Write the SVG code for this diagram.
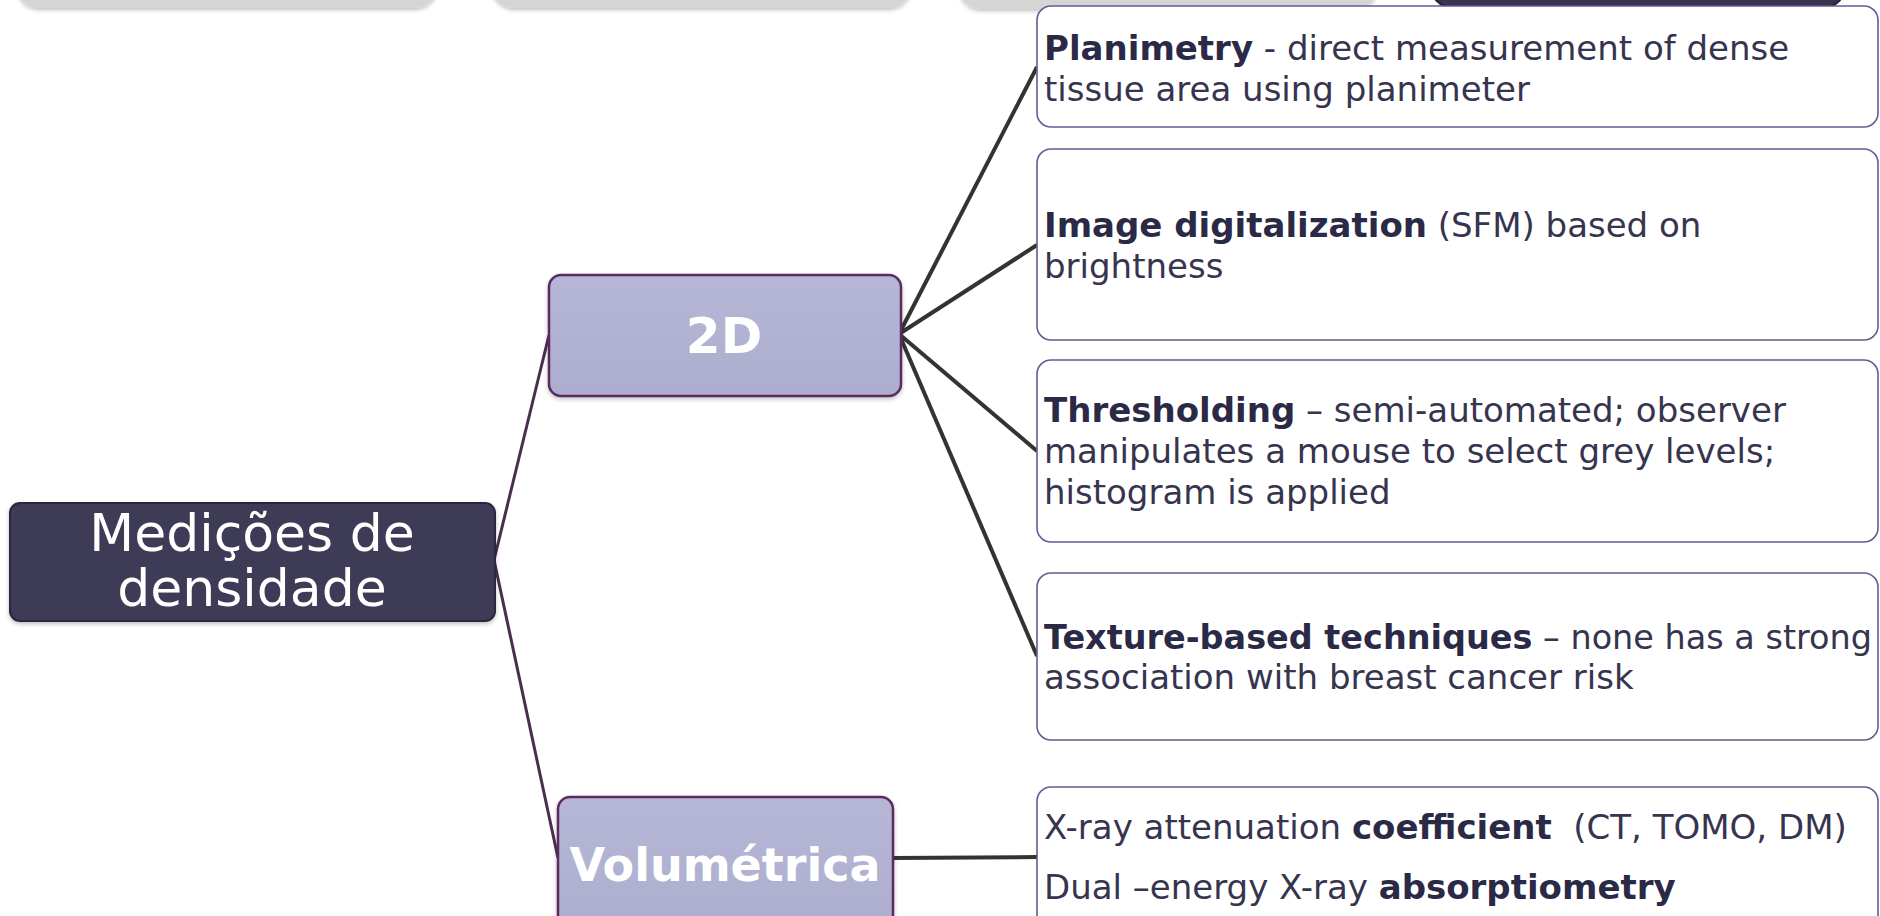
<svg xmlns="http://www.w3.org/2000/svg" width="1880" height="916" viewBox="0 0 1880 916">
  <defs>
    <filter id="sh" x="-5%" y="-5%" width="110%" height="115%">
      <feDropShadow dx="0" dy="2" stdDeviation="2" flood-color="#000" flood-opacity="0.25"/>
    </filter>
    <linearGradient id="lav" x1="0" y1="0" x2="0" y2="1">
      <stop offset="0" stop-color="#b6b6d6"/>
      <stop offset="1" stop-color="#adadcf"/>
    </linearGradient>
  </defs>
  <style>
    text { font-family: "DejaVu Sans", "Liberation Sans", sans-serif; }
    .tab { fill: #d5d5d5; filter: url(#sh); }
    .tabdark { fill: #3d3150; stroke: #2a2238; stroke-width: 2; }
    .root { fill: #3c3a55; stroke: #2a2840; stroke-width: 2; filter: url(#sh); }
    .mid { fill: url(#lav); stroke: #5b2c5f; stroke-width: 2.5; filter: url(#sh); }
    .leaf { fill: #ffffff; stroke: #5e5e96; stroke-width: 1.6; }
    .rootText { fill: #ffffff; font-size: 52px; text-anchor: middle; }
    .midText { fill: #ffffff; font-weight: bold; text-anchor: middle; }
    .leafText { font-size: 34px; fill: #36344e; }
    .b { font-weight: bold; fill: #2b2a46; }
    .c1 { stroke: #4b2d52; stroke-width: 3; fill: none; }
    .c2 { stroke: #333333; stroke-width: 4; fill: none; }
  </style>

  <!-- partially visible top tabs -->
  <g id="tabs">
    <rect class="tab" x="17" y="-50" width="420" height="58" rx="22"/>
    <rect class="tab" x="492" y="-50" width="419" height="58" rx="22"/>
    <rect class="tab" x="959" y="-50" width="418" height="59" rx="22"/>
    <rect class="tabdark" x="1431" y="-50" width="414" height="58" rx="22"/>
  </g>

  <g id="connectors">
    <line class="c1" x1="494" y1="560" x2="549" y2="335"/>
    <line class="c1" x1="494" y1="560" x2="558" y2="858"/>
    <line class="c2" x1="899" y1="334" x2="1037" y2="67"/>
    <line class="c2" x1="899" y1="334" x2="1037" y2="245"/>
    <line class="c2" x1="899" y1="334" x2="1037" y2="451"/>
    <line class="c2" x1="899" y1="334" x2="1037" y2="656"/>
    <line class="c2" x1="893" y1="858" x2="1037" y2="857"/>
  </g>

  <g id="root">
    <rect class="root" x="10" y="503" width="485" height="118" rx="10"/>
    <text class="rootText" x="252" y="551">Medições de</text>
    <text class="rootText" x="252" y="606">densidade</text>
  </g>

  <g id="node-2d">
    <rect class="mid" x="549" y="275" width="352" height="121" rx="12"/>
    <text class="midText" x="724" y="353" font-size="50">2D</text>
  </g>

  <g id="node-volumetrica">
    <rect class="mid" x="558" y="797" width="335" height="140" rx="12"/>
    <text class="midText" x="725" y="881" font-size="46">Volumétrica</text>
  </g>

  <g id="leaf-planimetry">
    <rect class="leaf" x="1037" y="6" width="841" height="121" rx="14"/>
    <text class="leafText" x="1044" y="60"><tspan class="b">Planimetry</tspan> - direct measurement of dense</text>
    <text class="leafText" x="1044" y="101">tissue area using planimeter</text>
  </g>

  <g id="leaf-digitalization">
    <rect class="leaf" x="1037" y="149" width="841" height="191" rx="14"/>
    <text class="leafText" x="1044" y="237"><tspan class="b">Image digitalization</tspan> (SFM) based on</text>
    <text class="leafText" x="1044" y="278">brightness</text>
  </g>

  <g id="leaf-thresholding">
    <rect class="leaf" x="1037" y="360" width="841" height="182" rx="14"/>
    <text class="leafText" x="1044" y="422"><tspan class="b">Thresholding</tspan> – semi-automated; observer</text>
    <text class="leafText" x="1044" y="463">manipulates a mouse to select grey levels;</text>
    <text class="leafText" x="1044" y="504">histogram is applied</text>
  </g>

  <g id="leaf-texture">
    <rect class="leaf" x="1037" y="573" width="841" height="167" rx="14"/>
    <text class="leafText" x="1044" y="649" textLength="828" lengthAdjust="spacingAndGlyphs"><tspan class="b">Texture-based techniques</tspan> – none has a strong</text>
    <text class="leafText" x="1044" y="689">association with breast cancer risk</text>
  </g>

  <g id="leaf-volumetric">
    <rect class="leaf" x="1037" y="787" width="841" height="160" rx="14"/>
    <text class="leafText" x="1044" y="839">X-ray attenuation <tspan class="b">coefficient</tspan>&#160; (CT, TOMO, DM)</text>
    <text class="leafText" x="1044" y="899">Dual –energy X-ray <tspan class="b">absorptiometry</tspan></text>
  </g>
</svg>
